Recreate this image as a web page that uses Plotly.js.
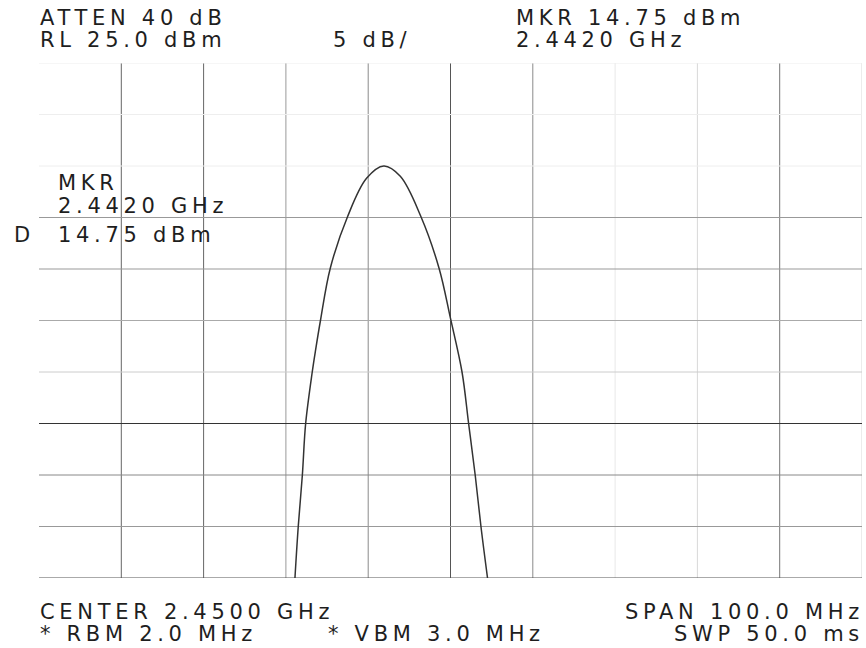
<!DOCTYPE html>
<html>
<head>
<meta charset="utf-8">
<script src="https://cdn.plot.ly/plotly-3.0.1.min.js"></script>
<style>
  html, body { margin: 0; padding: 0; background: #fff; }
  #chart { width: 866px; height: 648px; }
  text.annotation-text { letter-spacing: 4.7px; }
</style>
</head>
<body>
<div id="chart"></div>
<script>
// ---- data ----
const freqGHz  = [2.4311, 2.4315, 2.4320, 2.4324, 2.4332, 2.4336, 2.4342, 2.4354, 2.4375, 2.4398, 2.4419,
                  2.4439, 2.4464, 2.4486, 2.4500, 2.4514, 2.4522, 2.4530, 2.4537, 2.4545];
const levelDbm = [-25.0, -20.0, -15.0, -10.0, -5.0, -2.9, 0.0, 5.1, 10.1, 13.8, 15.0,
                  14.0, 10.1, 5.1, 0.2, -5.0, -10.0, -15.0, -20.0, -25.0];

const xRangeGHz = [2.40, 2.50];
const yRangeDbm = [-25, 25];
const xGridGHz  = [2.41, 2.42, 2.43, 2.44, 2.45, 2.46, 2.47, 2.48, 2.49, 2.50];
const yGridDbm  = [-25, -20, -15, -10, -5, 0, 5, 10, 15, 20, 25];

const headerLeft   = ["ATTEN 40 dB", "RL 25.0 dBm"];
const headerScale  = "5 dB/";
const headerRight  = ["MKR 14.75 dBm", "2.4420 GHz"];
const markerLines  = ["MKR", "2.4420 GHz", "14.75 dBm"];
const markerFlag   = "D";
const footerLeft   = ["CENTER 2.4500 GHz", "* RBM 2.0 MHz"];
const footerMid    = "* VBM 3.0 MHz";
const footerRight  = ["SPAN 100.0 MHz", "SWP 50.0 ms"];

// ---- styling ----
const xGridColors = ['#666', '#666', '#999', '#8a8a8a', '#555', '#8a8a8a', '#e8e8e8', '#d8d8d8', '#777', '#d8d8d8'];
const yGridColors = ['#555', '#999', '#888', '#333', '#ccc', '#aaa', '#999', '#999', '#eee', '#eee', '#eee'];

const W = 866, H = 648;
const M = {l: 39, r: 4, t: 63, b: 70};
const PW = W - M.l - M.r, PH = H - M.t - M.b;
const px = x => (x - M.l) / PW;          // pixel -> paper x
const py = y => (H - M.b - y) / PH;      // pixel -> paper y

const FONT = {family: 'DejaVu Sans, Liberation Sans, sans-serif', size: 21, color: '#1e1e1e'};

function ann(text, x, y, anchor) {
  return {text: text, xref: 'paper', yref: 'paper', x: px(x), y: py(y),
          xanchor: anchor || 'left', yanchor: 'middle', showarrow: false, font: FONT};
}

const shapes = [];
xGridGHz.forEach((g, i) => shapes.push({type: 'line', xref: 'x', yref: 'y', layer: 'below',
  x0: g, x1: g, y0: yRangeDbm[0], y1: yRangeDbm[1], line: {color: xGridColors[i], width: 1}}));
yGridDbm.forEach((g, i) => shapes.push({type: 'line', xref: 'x', yref: 'y', layer: 'below',
  x0: xRangeGHz[0], x1: xRangeGHz[1], y0: g, y1: g, line: {color: yGridColors[i], width: 1}}));

const annotations = [
  ann(headerLeft[0], 38, 17.5),
  ann(headerLeft[1], 38, 39.8),
  ann(headerScale, 331, 39.8),
  ann(headerRight[0], 514, 17.5),
  ann(headerRight[1], 514, 39.8),
  ann(markerLines[0], 56, 182.5),
  ann(markerLines[1], 56, 205.5),
  ann(markerLines[2], 56, 235.5),
  ann(markerFlag, 12, 235.5),
  ann(footerLeft[0], 38, 612),
  ann(footerLeft[1], 38, 634),
  ann(footerMid, 326, 634),
  ann(footerRight[0], 866, 612, 'right'),
  ann(footerRight[1], 866, 634, 'right')
];

const trace = {
  x: freqGHz, y: levelDbm, type: 'scatter', mode: 'lines',
  line: {color: '#333', width: 1.5, shape: 'spline', smoothing: 1},
  hoverinfo: 'skip'
};

const axisBase = {showgrid: false, zeroline: false, showline: false, showticklabels: false, ticks: '', fixedrange: true};

const layout = {
  width: W, height: H,
  margin: M,
  paper_bgcolor: '#fff', plot_bgcolor: '#fff',
  showlegend: false,
  xaxis: Object.assign({range: xRangeGHz}, axisBase),
  yaxis: Object.assign({range: yRangeDbm}, axisBase),
  shapes: shapes,
  annotations: annotations
};

Plotly.newPlot('chart', [trace], layout, {displayModeBar: false, staticPlot: true});
</script>
</body>
</html>
